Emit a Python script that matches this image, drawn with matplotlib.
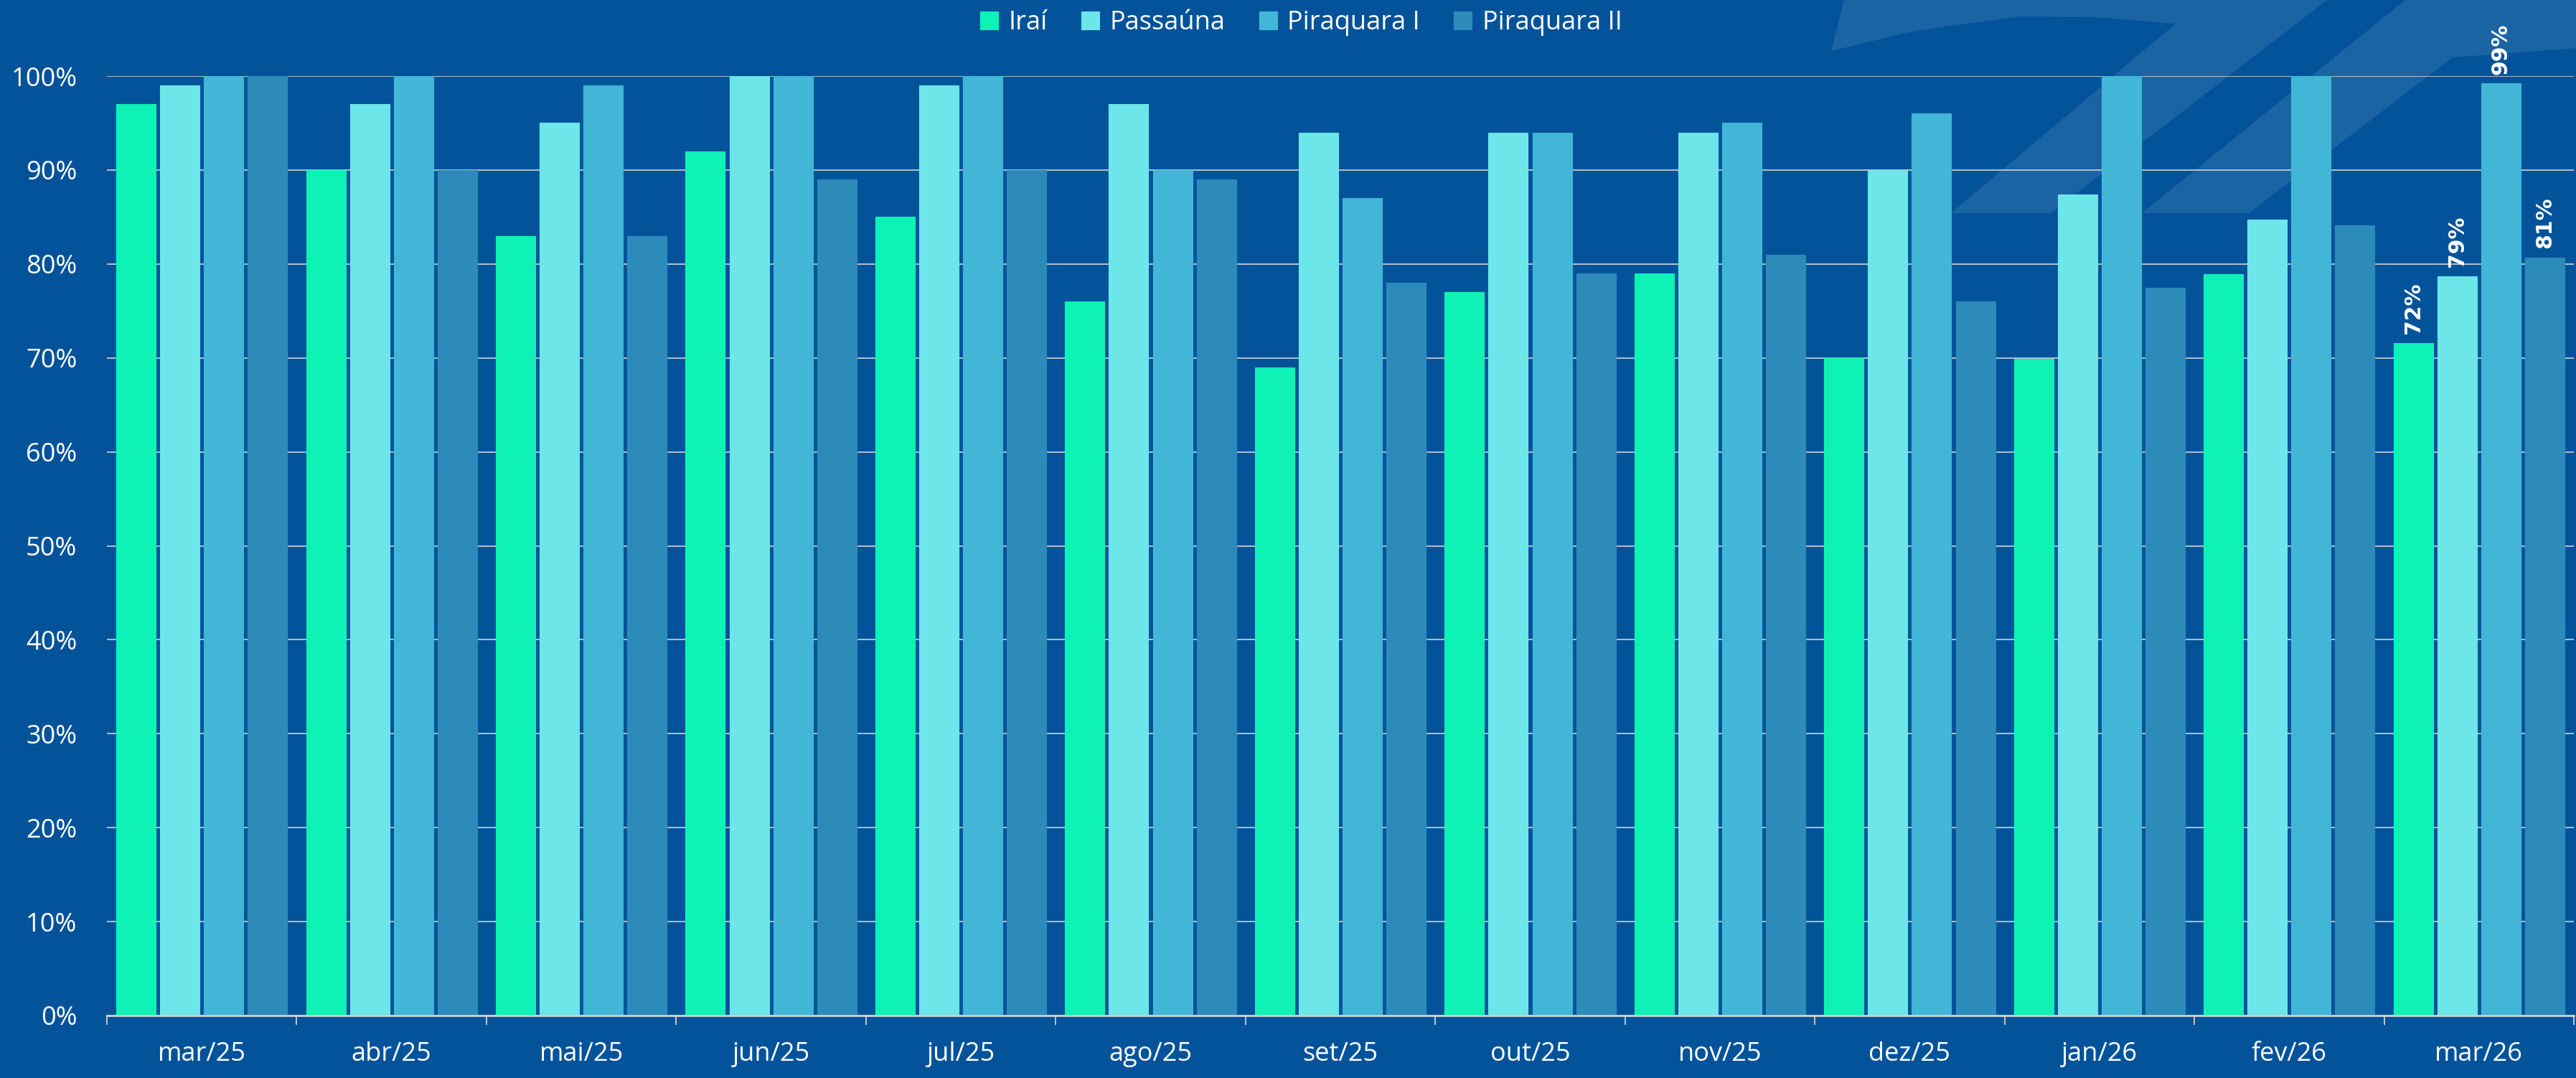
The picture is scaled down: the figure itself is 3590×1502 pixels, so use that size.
import numpy as np
import matplotlib
matplotlib.use("Agg")
import matplotlib.pyplot as plt
from matplotlib.patches import Polygon

# ============================================================
# Data
# ============================================================

months = ["mar/25", "abr/25", "mai/25", "jun/25", "jul/25", "ago/25",
          "set/25", "out/25", "nov/25", "dez/25", "jan/26", "fev/26", "mar/26"]

irai = [97, 90, 83, 92, 85, 76, 69, 77, 79, 70, 69.9, 78.9, 71.6]
passauna = [99, 97, 95, 100, 99, 97, 94, 94, 94, 90, 87.4, 84.7, 78.7]
piraquara1 = [100, 100, 99, 100, 100, 90, 87, 94, 95, 96, 100, 100, 99.2]
piraquara2 = [100, 90, 83, 89, 90, 89, 78, 79, 81, 76, 77.5, 84.1, 80.7]

series_names = ["Iraí", "Passaúna", "Piraquara I", "Piraquara II"]
series_vals = [irai, passauna, piraquara1, piraquara2]
colors = ["#0EF2B6", "#6CE6E9", "#42B6D6", "#2D8BBA"]

BG = "#03539B"
MARK = "#1B64A3"
W, H = 3591, 1502

# faint logo watermark in the top-right corner (pixel coords, top-left origin)
wm_a = [(2552, 71), (2570, 0), (3243, 0), (2858, 297), (2719, 297),
        (3032, 33), (2920, 24), (2814, 23), (2668, 43)]
wm_b = [(2985, 297), (3134, 297), (3418, 80), (3591, 67), (3591, 0),
        (3352, 0)]

# ============================================================
# Figure
# ============================================================

plt.rcParams["font.family"] = ["Open Sans", "DejaVu Sans"]

fig = plt.figure(figsize=(W / 100, H / 100), dpi=100, facecolor=BG)

for pts in (wm_a, wm_b):
    xy = [(x / W, 1 - y / H) for x, y in pts]
    fig.patches.append(Polygon(xy, closed=True, transform=fig.transFigure,
                               facecolor=MARK, edgecolor="none", zorder=0))

ax = fig.add_axes([149 / W, 1 - 1415 / H, (3587 - 149) / W, (1415 - 106) / H])
ax.set_facecolor("none")
ax.set_zorder(2)

n = len(months)
x = np.arange(n)
step, width = 0.231, 0.208

for j, (name, vals, c) in enumerate(zip(series_names, series_vals, colors)):
    pos = x + (j - 1.5) * step
    vals = np.array(vals) / 100
    ax.bar(pos, vals, width=width, color=c, label=name, zorder=3,
           edgecolor=c, linewidth=0.8)
    # only the latest month gets a value label
    ax.annotate(f"{vals[-1] * 100:.0f}%", (pos[-1], vals[-1]),
                xytext=(0, 9), textcoords="offset points",
                rotation=90, ha="center", va="bottom",
                color="white", fontsize=21.5, fontweight="bold",
                family="DejaVu Sans", zorder=5, annotation_clip=False)

ax.set_xlim(-0.5, n - 0.5)
ax.set_ylim(0, 1.0)

# y axis
ax.set_yticks(np.arange(0, 1.01, 0.1))
ax.set_yticklabels([f"{v}%" for v in range(0, 101, 10)])
ax.tick_params(axis="y", length=0, pad=30, labelsize=26, labelcolor="white")
ax.grid(axis="y", color="#C3C9D2", lw=1.3, zorder=1)

# x axis: boundary ticks, labels centred
ax.set_xticks(np.arange(-0.5, n, 1.0))
ax.set_xticklabels([])
ax.set_xticks(x, minor=True)
ax.set_xticklabels(months, minor=True)
ax.tick_params(axis="x", which="major", length=9.5, width=1.3,
               color="#D0D0D0", direction="out")
ax.tick_params(axis="x", which="minor", length=0, pad=26,
               labelsize=26, labelcolor="white")

for side in ["left", "right", "top"]:
    ax.spines[side].set_visible(False)
ax.spines["bottom"].set_color("#D0D0D0")
ax.spines["bottom"].set_linewidth(2)
ax.spines["bottom"].set_zorder(4)

fig.legend(loc="center", bbox_to_anchor=(0.505, 1 - 32 / H), ncol=4,
           frameon=False, fontsize=26, labelcolor="white",
           handlelength=0.7, handleheight=0.7, handletextpad=0.4,
           columnspacing=1.3)

fig.savefig("out.png", dpi=100, facecolor=BG)
